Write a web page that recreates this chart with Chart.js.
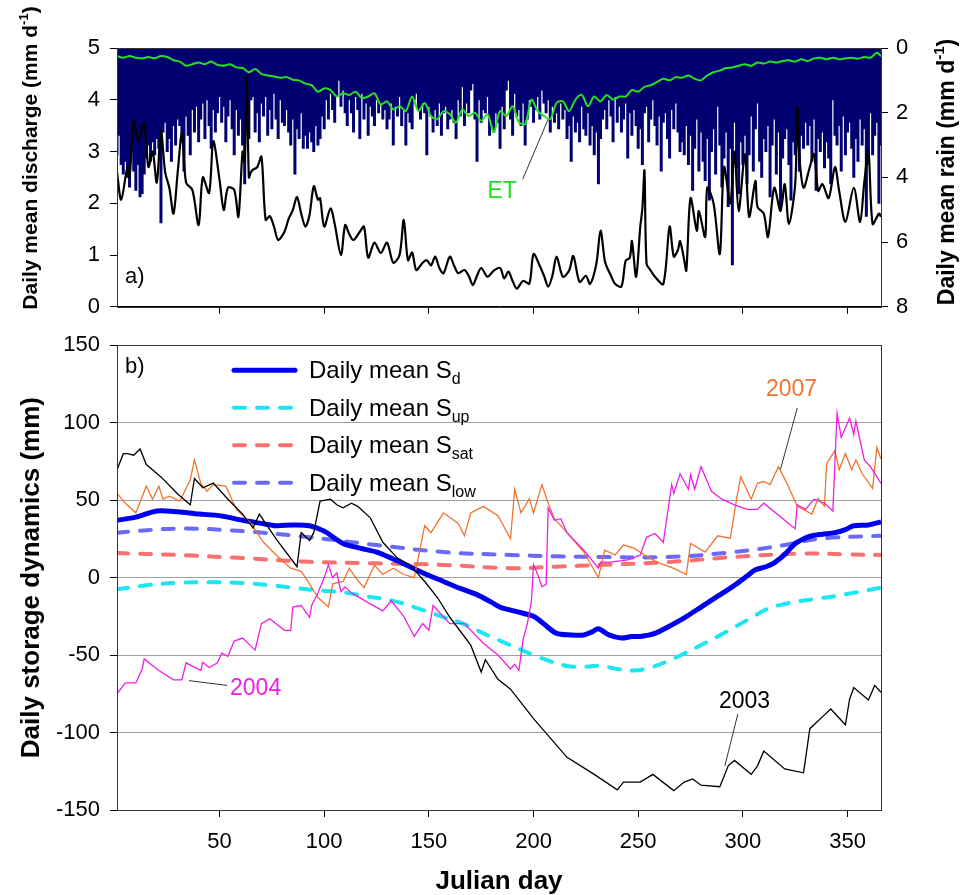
<!DOCTYPE html>
<html>
<head>
<meta charset="utf-8">
<script src="https://cdn.jsdelivr.net/npm/chart.js@4"></script>
<style>
  body { margin: 0; background: #fff; }
  #wrap { position: relative; width: 961px; height: 895px; }
  canvas { position: absolute; left: 0; }
</style>
</head>
<body>
<div id="wrap">
  <canvas id="top" width="961" height="330" style="top:0;width:961px;height:330px"></canvas>
  <canvas id="bot" width="961" height="573" style="top:322px;width:961px;height:573px"></canvas>
</div>
<script>
const FONT = "'Liberation Sans', Arial, Helvetica, sans-serif";
Chart.defaults.font.family = FONT;
Chart.defaults.color = '#000';

// tick labels
const xTicks = [50, 100, 150, 200, 250, 300, 350];
const qTicks = [0, 1, 2, 3, 4, 5];
const rainTicks = [0, 2, 4, 6, 8];
const sTicks = [-150, -100, -50, 0, 50, 100, 150];

// daily mean rain, mm/d, day 1..366
const rain = [
  3.3, 2.7, 3.6, 3.9, 3.5, 4.0, 4.3, 3.2, 3.8, 4.4,
  3.6, 4.6, 4.5, 3.9, 3.4, 3.0, 3.5, 2.9, 3.3, 2.8,
  3.1, 5.4, 2.6, 2.3, 3.2, 2.8, 3.5, 2.4, 3.0, 2.2,
  2.4, 2.9, 3.8, 2.1, 2.7, 3.3, 1.9, 2.6, 1.8, 2.9,
  2.2, 1.7, 2.8, 1.6, 2.4, 3.1, 1.9, 2.6, 2.0, 1.5,
  2.3, 1.8, 2.9, 2.1, 1.6, 2.5, 3.3, 1.9, 2.7, 2.2,
  3.0, 4.2, 2.4, 2.8, 1.6, 1.5, 2.6, 2.0, 2.9, 1.7,
  2.1, 1.5, 2.7, 1.9, 2.5, 1.4, 2.2, 2.8, 1.6, 2.3,
  2.4, 1.9, 2.6, 3.0, 2.2, 3.9, 2.5, 2.8, 2.0, 3.1,
  2.7, 3.1, 2.6, 2.9, 3.2, 2.4, 3.0, 2.8, 2.1, 2.5,
  1.6, 2.2, 1.4, 1.9, 2.3, 1.5, 1.0, 1.8, 1.3, 2.0,
  2.4, 1.6, 2.0, 2.6, 1.5, 1.9, 2.8, 1.4, 2.2, 1.7,
  2.7, 1.8, 2.1, 2.4, 1.6, 2.0, 1.7, 2.2, 1.9, 2.5,
  2.2, 1.7, 3.0, 1.8, 2.1, 1.5, 2.4, 1.9, 3.0, 2.0,
  2.3, 2.5, 1.6, 1.4, 1.9, 2.2, 1.7, 2.0, 3.3, 1.8,
  2.1, 2.6, 1.9, 2.4, 1.7, 2.7, 2.0, 1.8, 2.5, 2.2,
  1.9, 2.3, 2.8, 1.6, 2.1, 1.2, 2.4, 1.7, 2.0, 1.3,
  1.1, 2.2, 3.5, 1.6, 2.3, 1.9, 2.0, 1.5, 2.7, 2.4,
  2.6, 2.0, 2.3, 3.1, 1.8, 2.5, 1.3, 1.0, 2.2, 2.7,
  1.4, 2.1, 1.9, 2.4, 1.7, 3.0, 2.2, 1.6, 1.8, 2.3,
  1.9, 1.5, 2.2, 1.3, 1.7, 2.0, 1.6, 2.6, 1.8, 2.3,
  2.0, 2.5, 1.7, 2.2, 1.9, 2.8, 2.4, 3.5, 2.1, 2.6,
  2.3, 2.9, 1.8, 2.5, 2.7, 2.0, 3.0, 2.4, 3.3, 2.6,
  4.2, 2.8, 2.2, 1.9, 2.5, 1.6, 2.1, 2.9, 1.5, 2.3,
  1.8, 2.6, 2.2, 1.7, 3.4, 2.0, 2.7, 1.9, 2.4, 3.1,
  2.5, 3.6, 2.0, 1.8, 2.9, 2.2, 1.6, 2.4, 3.0, 2.1,
  3.8, 2.3, 2.0, 2.8, 3.4, 1.9, 2.5, 1.7, 2.6, 3.2,
  2.9, 3.3, 2.4, 3.6, 2.7, 4.4, 3.1, 2.2, 3.8, 2.6,
  3.5, 4.1, 2.8, 4.7, 3.2, 2.5, 3.9, 1.8, 3.0, 4.3,
  3.4, 2.6, 4.9, 3.1, 6.7, 2.3, 3.7, 4.5, 2.9, 3.6,
  2.7, 4.2, 3.3, 2.1, 3.8, 2.5, 1.7, 3.5, 4.0, 2.8,
  3.2, 2.4, 4.6, 3.0, 2.2, 3.9, 2.6, 5.0, 3.4, 2.8,
  2.5, 3.6, 4.7, 2.9, 3.3, 2.0, 3.8, 2.7, 3.1, 2.3,
  3.0, 2.4, 3.5, 2.2, 4.4, 2.8, 3.2, 2.6, 3.7, 2.9,
  3.4, 4.2, 1.6, 2.7, 3.0, 2.4, 3.8, 2.1, 3.3, 2.6,
  2.3, 3.1, 4.0, 2.8, 3.5, 2.2, 3.0, 2.5, 5.2, 3.6,
  2.0, 3.3, 2.7, 2.3, 4.8, 3.0
];

// daily mean discharge, mm/d
const qDays = [1,3,6,7,9,11,14,16,18,20,22,24,26,28,30,32,34,37,40,42,45,47,50,52,54,57,59,61,62,63,64,65,66,68,70,72,74,76,78,81,83,85,87,89,91,93,95,97,98,100,103,105,108,110,112,114,117,119,121,124,127,130,133,136,138,140,142,144,147,149,151,153,155,157,160,162,164,167,169,171,173,175,178,181,184,186,188,190,192,195,198,200,203,205,207,209,211,214,217,219,222,225,227,230,232,234,235,237,239,242,244,246,247,249,251,252,253,254,256,258,262,265,267,269,270,272,273,275,278,279,282,283,286,289,291,294,296,298,301,303,306,307,310,312,315,318,320,322,325,326,327,329,332,334,336,338,341,344,346,349,353,356,358,360,362,365,366];
const qVals = [2.6,2.07,2.7,2.5,3.6,3.2,3.55,2.7,3.0,2.4,3.4,2.6,2.3,1.8,2.6,3.35,2.4,2.26,1.58,2.5,2.2,3.2,2.45,1.87,2.3,2.26,1.74,3.0,2.8,4.45,2.5,2.6,2.65,2.7,2.9,1.68,1.75,1.55,1.29,1.45,1.7,1.87,2.12,1.8,1.55,1.78,2.33,2.07,2.1,1.55,1.9,1.6,1.0,1.58,1.4,1.29,1.45,1.55,0.95,1.24,1.04,1.24,0.85,1.0,1.68,0.9,1.05,0.71,0.85,0.9,0.8,0.97,0.75,0.65,0.97,0.8,0.65,0.71,0.6,0.42,0.6,0.75,0.58,0.7,0.75,0.55,0.68,0.5,0.35,0.5,0.45,1.02,0.79,0.6,0.39,0.6,0.97,0.58,0.7,0.98,0.48,0.6,0.44,0.83,1.47,0.9,0.77,0.6,0.44,0.39,0.89,0.95,1.27,0.58,1.55,1.9,2.63,0.83,0.7,0.58,0.44,1.55,0.97,1.1,1.27,0.9,0.7,2.1,1.47,1.85,1.35,2.3,2.0,1.02,2.7,2.0,3.0,1.85,2.95,1.74,2.43,1.93,1.8,1.35,2.3,1.85,2.37,1.6,2.37,3.86,2.9,2.3,2.7,2.95,2.24,2.37,2.1,2.7,2.24,1.64,2.3,1.64,2.4,3.0,1.6,1.8,1.74];

// ET, mm/d (plotted on the rain axis)
const etDays = [1,4,7,10,13,16,19,22,25,28,31,34,37,40,43,46,49,52,55,58,61,64,67,70,73,76,79,82,85,88,91,94,97,100,103,106,109,112,115,118,121,124,127,130,133,136,139,142,145,148,151,154,157,160,163,166,169,172,175,178,181,184,187,190,193,196,199,202,205,208,211,214,217,220,223,226,229,232,235,238,241,244,247,250,253,256,259,262,265,268,271,274,277,280,283,286,289,292,295,298,301,304,307,310,313,316,319,322,325,328,331,334,337,340,343,346,349,352,355,358,361,364,366];
const etVals = [0.25,0.3,0.25,0.3,0.32,0.28,0.32,0.25,0.28,0.38,0.42,0.55,0.5,0.45,0.5,0.42,0.52,0.55,0.5,0.6,0.62,0.75,0.65,0.8,0.85,0.88,0.92,0.9,0.98,1.0,1.1,1.15,1.35,1.25,1.3,1.5,1.4,1.45,1.35,1.55,1.5,1.4,1.75,1.65,1.9,1.8,1.95,1.5,1.95,1.7,2.1,2.2,1.95,2.05,2.3,1.9,2.1,2.0,2.25,2.05,2.6,1.95,2.1,1.8,2.3,2.35,1.6,1.95,2.1,2.2,1.7,1.65,1.95,1.6,1.45,1.8,1.5,1.65,1.45,1.6,1.5,1.5,1.3,1.35,1.2,1.15,1.05,0.95,1.0,0.9,0.92,0.85,0.95,1.0,0.85,0.75,0.7,0.62,0.6,0.55,0.5,0.55,0.45,0.48,0.42,0.45,0.4,0.38,0.42,0.35,0.4,0.32,0.3,0.35,0.3,0.35,0.32,0.3,0.33,0.28,0.3,0.15,0.25];

// storage dynamics, mm
const sdDays = [1,10,20,30,40,50,61,70,77,85,93,100,109,117,125,133,141,149,157,165,173,180,184,192,200,205,211,218,224,228,231,236,242,247,251,258,264,272,280,288,296,302,306,311,315,320,325,329,333,338,344,349,353,360,366];
const sdVals = [37,39,43,42.5,41,40,37,35,33.5,34,33.5,30,22,19,16.5,12,7,2,-2.5,-7,-11,-16,-19,-22,-25,-30,-36,-37,-37,-35,-33,-37,-39,-38,-38,-36,-32,-26,-19,-12,-5,1,5,7,9.5,15,22,25,27,28,29,31,33.5,34,36];
const supDays = [1,15,30,45,61,75,85,95,109,120,133,145,157,165,173,181,189,200,208,216,224,232,240,248,256,264,272,280,288,296,304,312,320,328,336,344,352,360,366];
const supVals = [-7.6,-5,-3.4,-3,-3.5,-5,-6.5,-8,-9.6,-12,-15,-20,-25.5,-29,-34,-39,-43.6,-50,-54,-57,-57.5,-57,-59,-60,-58,-54,-49,-43.6,-38,-32,-26,-20,-17,-15,-13.5,-12,-10,-8,-6.5];
const satDays = [1,30,61,93,125,157,189,210,232,264,296,328,350,366];
const satVals = [15.8,14.6,12.6,10.2,9.2,8.2,6.1,7,8.2,10,13.3,15.5,15,14.6];
const lowDays = [1,30,61,93,125,157,189,210,232,264,296,320,336,366];
const lowVals = [29,31.6,30,26,21,16.5,14.6,13.8,13.3,13.3,16.5,21,25,27];

const y03Days = [1,4,6,9,12,15,22,30,36,38,42,47,54,61,66,69,77,87,89,93,95,98,103,106,109,113,116,122,128,135,141,148,154,160,170,175,177,183,189,200,216,229,240,243,251,257,267,272,276,280,289,293,296,304,307,310,320,329,332,339,342,349,351,353,360,363,366];
const y03Vals = [69.6,80,80,79,83,73,65,54,47,64,58,61,50.6,41,32,41,25,7,29,24,29,49.4,50.6,47,45,48,46,38.6,22.8,12.6,8.2,-2.5,-12.7,-25.6,-43.6,-61,-53,-65.6,-72,-91,-116,-127,-137,-132,-132,-127,-137.5,-132,-130,-134,-135,-121.5,-118,-127,-121.5,-112,-123.5,-126,-97.5,-88.6,-84.8,-95,-78.5,-71,-79,-69.6,-74];
const y04Days = [1,5,10,13,14,21,28,32,34,41,42,45,49,51,54,57,61,67,70,74,81,84,85,89,93,94,97,100,102,104,106,108,110,113,117,122,128,132,138,143,147,150,152,160,167,176,183,189,191,193,195,197,199,200,202,204,206,207,210,213,216,224,231,232,237,245,251,254,258,262,266,267,270,274,275,277,280,285,290,296,302,307,310,325,326,330,334,339,343,345,347,351,353,354,358,361,366];
const y04Vals = [-75,-68,-68,-59,-52.5,-60,-66,-66,-55,-60,-54.7,-58,-55,-48.7,-50.8,-41,-39,-46.8,-29.7,-26.6,-34,-34,-19,-18,-25.6,-18,-10,0,8.2,0,3,-9,-6,-10,-12.9,-17,-21.5,-15,-25,-38,-29.7,-34,-18,-29.7,-29.7,-42.4,-50,-59,-56,-60,-40,-30,-15,8.2,2,-6,-4.4,45,37,38,29,17.7,6.1,10,10,11.4,14.6,26,28.5,22.8,60,54.4,67,57,66.5,57,71.5,55.7,50.6,47,44,44,48,31.6,47,44,50.6,48,43,106,90.5,103,92.4,101,76,71.5,60.8];
const y07Days = [1,5,10,15,18,21,23,26,31,36,38,41,44,47,53,58,65,71,77,84,89,93,97,102,104,109,112,115,119,124,128,133,138,143,148,151,157,164,167,170,176,183,189,191,194,198,200,204,207,210,216,224,231,234,239,243,248,253,259,267,273,275,282,288,294,297,299,304,307,310,313,317,321,326,333,336,339,340,344,346,349,352,354,357,362,364,366];
const y07Vals = [54.4,48,41.8,59,50.6,59,50.6,52.5,49.4,63,76,61,55.7,60,59,44,35,22.8,14.6,6.1,4,-4,-12.9,-19,-4,-2.5,6,0,-6.5,8,2,6,2,0,33.5,29,41.8,35,27,41.8,46,40,25,57,41.8,51,41.8,60,48,38,29,16.5,0,17.7,14.6,21,19,14.6,10,6,2,22,16.5,27,25.3,50.6,65,50.6,61,62,60,71.5,61,46,41,51,46,73.4,82,69.6,80,69.6,76,67,57.6,84,76.6];

// text labels with leader lines, in data units
const notesTop = [
  {text: 'ET', color: '#22dd22', x: 178, y: 4.43, line: [194.8, 4.06, 207, 2.2]}
];
const notesBot = [
  {text: '2004', color: '#ee1ee6', x: 55, y: -72, line: [35.4, -66.5, 53.6, -69.6]},
  {text: '2003', color: '#000', x: 288.6, y: -80, line: [297.6, -88, 291.4, -121.5]},
  {text: '2007', color: '#ef7430', x: 311, y: 121, line: [326, 109.5, 318, 70]}
];

function pts(days, vals) { return days.map((d, i) => ({x: d, y: vals[i]})); }
function fixTicks(list) { return s => { s.ticks = list.map(v => ({value: v})); }; }

function richText(ctx, parts, x, y, size, bold, vertical) {
  ctx.save();
  ctx.translate(x, y);
  if (vertical) ctx.rotate(-Math.PI / 2);
  const w = bold ? 'bold ' : '';
  const fontOf = p => w + (p.s ? Math.round(size * 0.64) : size) + 'px ' + FONT;
  let total = 0;
  parts.forEach(p => { ctx.font = fontOf(p); total += ctx.measureText(p.t).width; });
  let cx = -total / 2;
  ctx.textAlign = 'left';
  ctx.textBaseline = 'alphabetic';
  ctx.fillStyle = '#000';
  parts.forEach(p => {
    ctx.font = fontOf(p);
    const dy = p.s === 'sup' ? -size * 0.42 : 0;
    ctx.fillText(p.t, cx, dy);
    cx += ctx.measureText(p.t).width;
  });
  ctx.restore();
}

const frame = {
  id: 'frame',
  afterDraw(chart) {
    const {ctx, chartArea: a} = chart;
    ctx.save();
    ctx.strokeStyle = '#333';
    ctx.lineWidth = 1;
    ctx.strokeRect(Math.round(a.left) + 0.5, Math.round(a.top) + 0.5,
      Math.round(a.right - a.left), Math.round(a.bottom - a.top));
    ctx.restore();
  }
};

function drawNotes(chart, notes, yId) {
  const ctx = chart.ctx, xs = chart.scales.x, ys = chart.scales[yId];
  ctx.save();
  notes.forEach(n => {
    const l = n.line;
    ctx.strokeStyle = '#333';
    ctx.lineWidth = 1;
    ctx.beginPath();
    ctx.moveTo(xs.getPixelForValue(l[0]), ys.getPixelForValue(l[1]));
    ctx.lineTo(xs.getPixelForValue(l[2]), ys.getPixelForValue(l[3]));
    ctx.stroke();
    ctx.fillStyle = n.color;
    ctx.font = '23px ' + FONT;
    ctx.textAlign = 'left';
    ctx.textBaseline = 'middle';
    ctx.fillText(n.text, xs.getPixelForValue(n.x), ys.getPixelForValue(n.y));
  });
  ctx.restore();
}

const decorTop = {
  id: 'decorTop',
  afterDraw(chart) {
    const ctx = chart.ctx, a = chart.chartArea;
    drawNotes(chart, notesTop, 'yR');
    richText(ctx, [{t: 'Daily mean discharge (mm d'}, {t: '-1', s: 'sup'}, {t: ')'}], 37, 158, 21, true, true);
    richText(ctx, [{t: 'Daily mean rain (mm d'}, {t: '-1', s: 'sup'}, {t: ')'}], 954, 172, 23, true, true);
    ctx.save();
    ctx.font = '22px ' + FONT;
    ctx.fillStyle = '#000';
    ctx.fillText('a)', a.left + 8, a.bottom - 24);
    ctx.restore();
  }
};

const decorBot = {
  id: 'decorBot',
  afterDraw(chart) {
    const ctx = chart.ctx, a = chart.chartArea;
    drawNotes(chart, notesBot, 'y');
    richText(ctx, [{t: 'Daily storage dynamics (mm)'}], 39, (a.top + a.bottom) / 2, 26, true, true);
    richText(ctx, [{t: 'Julian day'}], (a.left + a.right) / 2, 567, 26, true, false);
    ctx.save();
    ctx.font = '22px ' + FONT;
    ctx.fillStyle = '#000';
    ctx.fillText('b)', a.left + 8, a.top + 28);
    // legend
    let y = a.top + 25;
    chart.data.datasets.filter(d => d.sub).forEach(d => {
      ctx.strokeStyle = d.borderColor;
      ctx.lineWidth = d.borderWidth;
      ctx.lineCap = 'round';
      ctx.setLineDash(d.borderDash || []);
      ctx.beginPath();
      ctx.moveTo(a.left + 117, y);
      ctx.lineTo(a.left + 178, y);
      ctx.stroke();
      ctx.setLineDash([]);
      ctx.fillStyle = '#000';
      ctx.textBaseline = 'alphabetic';
      ctx.font = '24px ' + FONT;
      const tx = a.left + 192;
      ctx.fillText(d.label, tx, y + 8);
      const w = ctx.measureText(d.label).width;
      ctx.font = '16px ' + FONT;
      ctx.fillText(d.sub, tx + w, y + 14);
      y += 37.5;
    });
    ctx.restore();
  }
};

const tickGrid = {drawOnChartArea: false, tickLength: 7, color: '#000'};

new Chart(document.getElementById('top'), {
  type: 'bar',
  data: {
    datasets: [
      {type: 'line', label: 'Discharge', data: pts(qDays, qVals), yAxisID: 'yL',
        borderColor: '#000', borderWidth: 2.2, pointRadius: 0, tension: 0.3, order: 0},
      {type: 'line', label: 'ET', data: pts(etDays, etVals), yAxisID: 'yR',
        borderColor: '#22e022', borderWidth: 2, pointRadius: 0, tension: 0.3, order: 1},
      {type: 'bar', label: 'Rain', data: rain.map((v, i) => ({x: i + 1, y: v})), yAxisID: 'yR',
        backgroundColor: '#000070', borderWidth: 0, barPercentage: 1, categoryPercentage: 1,
        inflateAmount: 0.45, order: 2}
    ]
  },
  options: {
    responsive: false, animation: false, events: [],
    layout: {padding: {top: 48, left: 0, right: 0, bottom: 0}},
    plugins: {legend: {display: false}, tooltip: {enabled: false}},
    scales: {
      x: {type: 'linear', min: 1, max: 366, offset: false, afterBuildTicks: fixTicks(xTicks),
        afterFit: s => { s.height = 23; }, ticks: {display: false},
        grid: Object.assign({offset: false}, tickGrid), border: {color: '#000'}},
      yL: {type: 'linear', position: 'left', min: 0, max: 5, afterBuildTicks: fixTicks(qTicks),
        afterFit: s => { s.width = 117; }, ticks: {font: {size: 22}, padding: 10},
        grid: tickGrid, border: {color: '#000'}},
      yR: {type: 'linear', position: 'right', min: 0, max: 8, reverse: true, afterBuildTicks: fixTicks(rainTicks),
        afterFit: s => { s.width = 80; }, ticks: {font: {size: 22}, padding: 8},
        grid: tickGrid, border: {color: '#000'}}
    }
  },
  plugins: [frame, decorTop]
});

const thin = (data, color) => ({data, borderColor: color, borderWidth: 1.3, pointRadius: 0, tension: 0});
const dash = [11, 12];

new Chart(document.getElementById('bot'), {
  type: 'line',
  data: {
    datasets: [
      Object.assign({label: '2003'}, thin(pts(y03Days, y03Vals), '#000')),
      Object.assign({label: '2004'}, thin(pts(y04Days, y04Vals), '#ee1ee6')),
      Object.assign({label: '2007'}, thin(pts(y07Days, y07Vals), '#ef7430')),
      {label: 'Daily mean S', sub: 'd', data: pts(sdDays, sdVals), borderColor: '#0000f0', borderWidth: 5,
        pointRadius: 0, tension: 0.3, order: 3},
      {label: 'Daily mean S', sub: 'up', data: pts(supDays, supVals), borderColor: '#1ee6f0', borderWidth: 4,
        borderDash: dash, borderCapStyle: 'round', pointRadius: 0, tension: 0.4, order: 6},
      {label: 'Daily mean S', sub: 'sat', data: pts(satDays, satVals), borderColor: '#f87070', borderWidth: 4,
        borderDash: dash, borderCapStyle: 'round', pointRadius: 0, tension: 0.4, order: 5},
      {label: 'Daily mean S', sub: 'low', data: pts(lowDays, lowVals), borderColor: '#6a6af8', borderWidth: 4,
        borderDash: dash, borderCapStyle: 'round', pointRadius: 0, tension: 0.4, order: 4}
    ]
  },
  options: {
    responsive: false, animation: false, events: [],
    layout: {padding: {top: 14, left: 0, right: 80, bottom: 0}},
    plugins: {legend: {display: false}, tooltip: {enabled: false}},
    scales: {
      x: {type: 'linear', min: 1, max: 366, afterBuildTicks: fixTicks(xTicks),
        afterFit: s => { s.height = 85; }, ticks: {font: {size: 22}, padding: 12, maxRotation: 0},
        grid: tickGrid, border: {color: '#000'}},
      y: {type: 'linear', min: -150, max: 150, afterBuildTicks: fixTicks(sTicks),
        afterFit: s => { s.width = 117; }, ticks: {font: {size: 22}, padding: 10},
        grid: {color: '#a0a0a0', tickColor: '#000', tickLength: 7}, border: {color: '#000'}}
    }
  },
  plugins: [frame, decorBot]
});
</script>
</body>
</html>
